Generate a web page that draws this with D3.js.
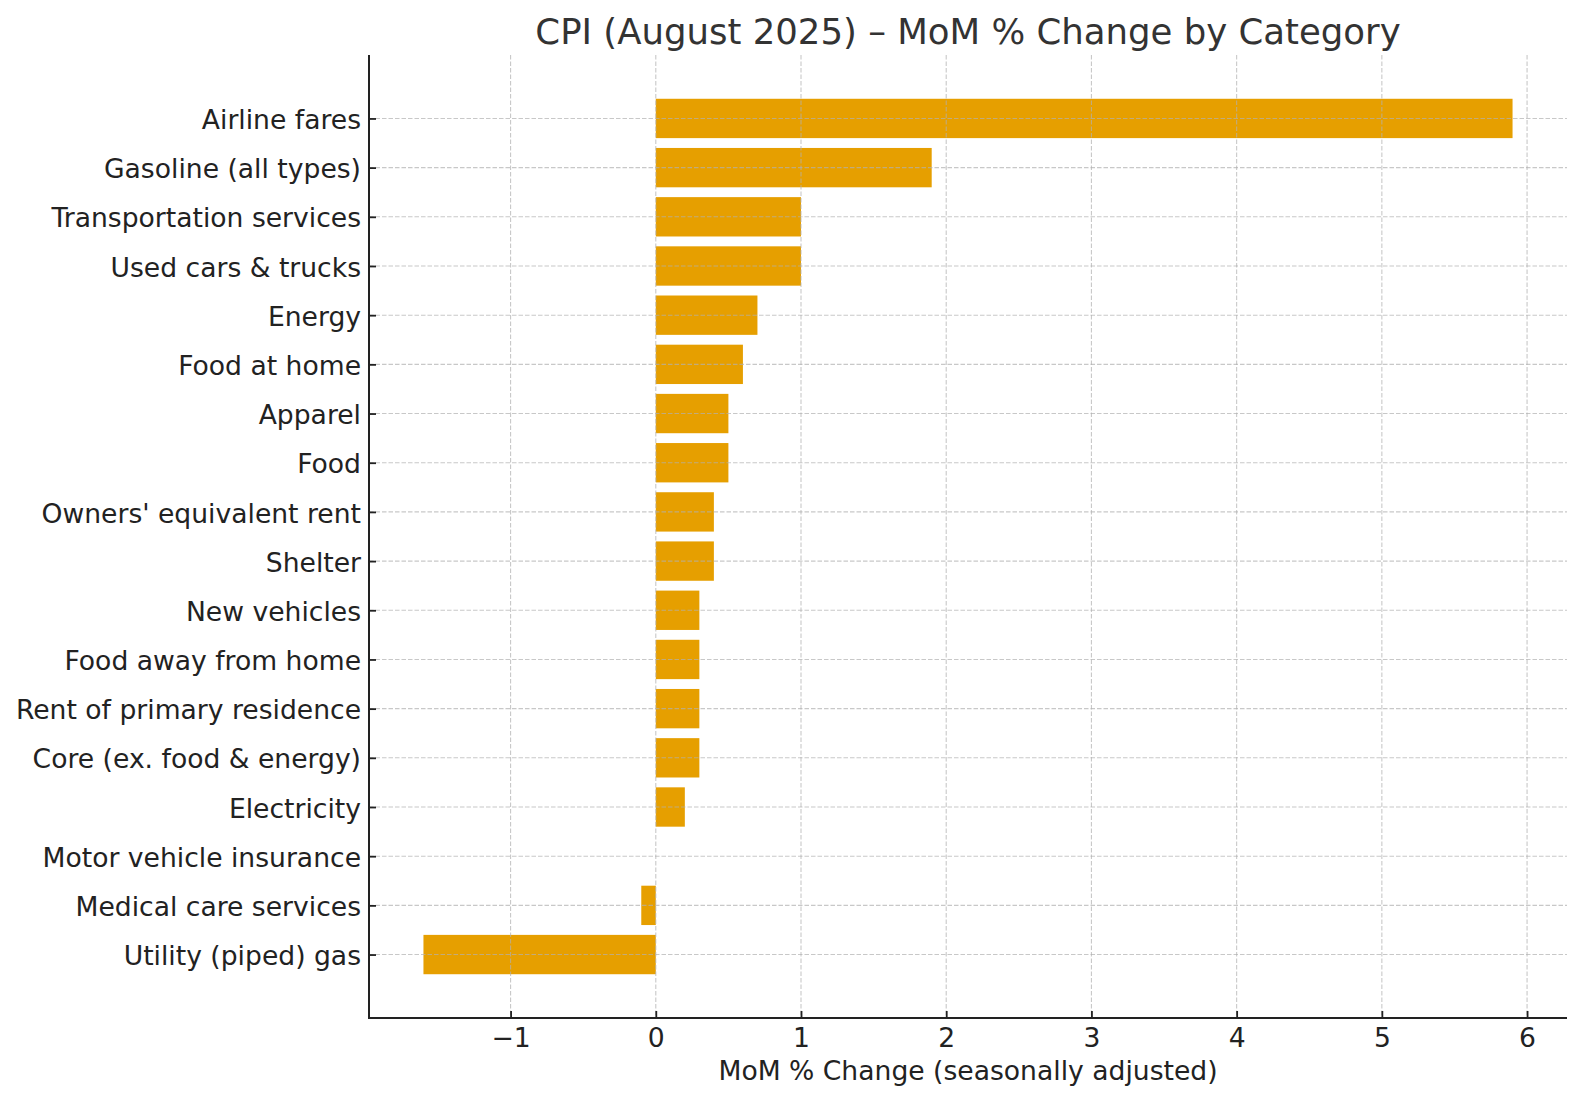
<!DOCTYPE html>
<html>
<head>
<meta charset="utf-8">
<script src="https://cdn.jsdelivr.net/npm/d3@7"></script>
<style>
  body { margin: 0; background: #fff; }
  text { font-family: "DejaVu Sans", sans-serif; }
</style>
</head>
<body>
<div id="chart"></div>
<script>
// categories top to bottom
var categories = [
  "Airline fares", "Gasoline (all types)", "Transportation services", "Used cars & trucks",
  "Energy", "Food at home", "Apparel", "Food", "Owners' equivalent rent", "Shelter",
  "New vehicles", "Food away from home", "Rent of primary residence", "Core (ex. food & energy)",
  "Electricity", "Motor vehicle insurance", "Medical care services", "Utility (piped) gas"
];
var momChange = [5.9, 1.9, 1.0, 1.0, 0.7, 0.6, 0.5, 0.5, 0.4, 0.4, 0.3, 0.3, 0.3, 0.3, 0.2, 0.0, -0.1, -1.6];
var xTicks = [-1, 0, 1, 2, 3, 4, 5, 6];

var W = 1582, H = 1103;
var margin = {top: 55, right: 15, bottom: 85, left: 369},
    width = W - margin.left - margin.right,
    height = H - margin.top - margin.bottom;

var svg = d3.select("#chart")
  .append("svg")
    .attr("width", W)
    .attr("height", H);

var g = svg.append("g")
    .attr("transform", "translate(" + margin.left + "," + margin.top + ")");

// matplotlib-like 5% margins
var lo = d3.min(momChange), hi = d3.max(momChange), pad = (hi - lo) * 0.05;
var x = d3.scaleLinear().domain([lo - pad, hi + pad]).range([0, width]);

// index positions; bars are 0.8 thick, 5% margin on the y span
var n = categories.length;
var ySpan = (n - 1) + 0.8, yPad = ySpan * 0.05;
var yIdx = d3.scaleLinear().domain([-0.4 - yPad, n - 1 + 0.4 + yPad]).range([0, height]);
var barH = yIdx(0.8) - yIdx(0);

// bars
g.selectAll("rect.bar")
  .data(momChange)
  .enter()
  .append("rect")
    .attr("class", "bar")
    .attr("x", function(d) { return x(Math.min(0, d)); })
    .attr("y", function(d, i) { return yIdx(i - 0.4); })
    .attr("width", function(d) { return Math.abs(x(d) - x(0)); })
    .attr("height", barH)
    .attr("fill", "#E69F00");

// grid on top of bars
g.selectAll("line.gx")
  .data(xTicks)
  .enter()
  .append("line")
    .attr("x1", function(d) { return x(d); })
    .attr("x2", function(d) { return x(d); })
    .attr("y1", 0).attr("y2", height)
    .attr("stroke", "#b0b0b0").attr("stroke-opacity", 0.7)
    .attr("stroke-width", 1.1).attr("stroke-dasharray", "4.5,2");

g.selectAll("line.gy")
  .data(categories)
  .enter()
  .append("line")
    .attr("x1", 0).attr("x2", width)
    .attr("y1", function(d, i) { return yIdx(i); })
    .attr("y2", function(d, i) { return yIdx(i); })
    .attr("stroke", "#b0b0b0").attr("stroke-opacity", 0.7)
    .attr("stroke-width", 1.1).attr("stroke-dasharray", "4.5,2");

// x axis, ticks pointing inward
var xAxis = d3.axisBottom(x)
  .tickValues(xTicks)
  .tickSize(-7)
  .tickPadding(10)
  .tickFormat(function(d) { return d < 0 ? "\u2212" + Math.abs(d) : d; });

var gx = g.append("g")
    .attr("transform", "translate(0," + height + ")")
    .call(xAxis);
gx.select(".domain").remove();
gx.selectAll("line").attr("stroke", "#222").attr("stroke-width", 1.8);
gx.selectAll("text").attr("font-size", "26.6px").attr("fill", "#222")
  .attr("font-family", "DejaVu Sans, sans-serif");

// y axis
var yAxis = d3.axisLeft(yIdx)
  .tickValues(d3.range(n))
  .tickSize(-7)
  .tickPadding(8)
  .tickFormat(function(i) { return categories[i]; });

var gy = g.append("g").call(yAxis);
gy.select(".domain").remove();
gy.selectAll("line").attr("stroke", "#222").attr("stroke-width", 1.8);
gy.selectAll("text").attr("font-size", "26.6px").attr("fill", "#222")
  .attr("dy", "0.38em")
  .attr("font-family", "DejaVu Sans, sans-serif");

// spines (left and bottom only)
g.append("line").attr("x1", 0).attr("x2", 0).attr("y1", 0).attr("y2", height + 1)
  .attr("stroke", "#222").attr("stroke-width", 2);
g.append("line").attr("x1", -1).attr("x2", width).attr("y1", height).attr("y2", height)
  .attr("stroke", "#222").attr("stroke-width", 2);

// title
svg.append("text")
  .attr("x", margin.left + width / 2)
  .attr("y", 44)
  .attr("text-anchor", "middle")
  .attr("font-size", "35.5px")
  .attr("fill", "#333")
  .text("CPI (August 2025) \u2013 MoM % Change by Category");

// x label
svg.append("text")
  .attr("x", margin.left + width / 2)
  .attr("y", 1080)
  .attr("text-anchor", "middle")
  .attr("font-size", "26.6px")
  .attr("fill", "#222")
  .text("MoM % Change (seasonally adjusted)");
</script>
</body>
</html>
